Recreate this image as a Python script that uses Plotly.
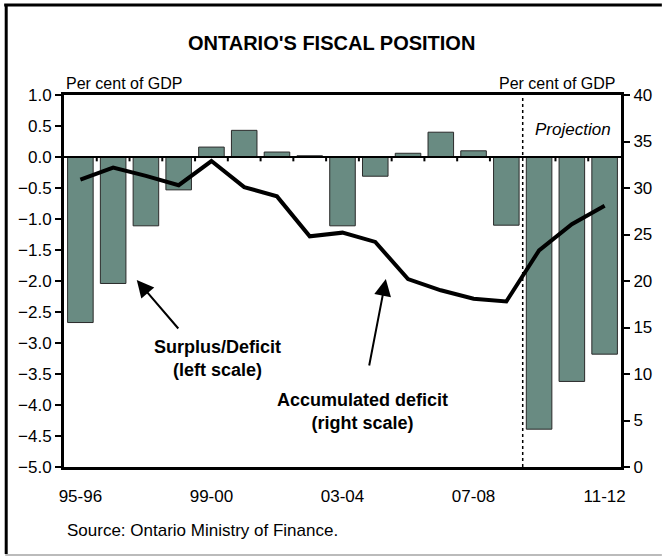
import plotly.graph_objects as go

years = ["95-96", "96-97", "97-98", "98-99", "99-00", "00-01", "01-02", "02-03",
         "03-04", "04-05", "05-06", "06-07", "07-08", "08-09", "09-10", "10-11", "11-12"]
surplus_deficit = [-2.67, -2.04, -1.11, -0.53, 0.16, 0.43, 0.08, 0.02,
                   -1.11, -0.31, 0.06, 0.40, 0.10, -1.10, -4.39, -3.62, -3.18]
accumulated_deficit = [30.9, 32.2, 31.3, 30.3, 32.9, 30.1, 29.1, 24.8,
                       25.2, 24.2, 20.2, 19.0, 18.1, 17.8, 23.3, 26.1, 28.1]
shown_labels = ["95-96", "99-00", "03-04", "07-08", "11-12"]
projection_start = "09-10"

font = "Liberation Sans, Arial, sans-serif"
bar_color = "#698b82"

# plot area in pixels (left, right, top, bottom)
L, R, T, B = 64, 623, 95, 467


def px_x(v):
    return (v - L) / (R - L)


def px_y(v):
    return (B - v) / (B - T)


fig = go.Figure()

fig.add_trace(go.Bar(
    x=years, y=surplus_deficit,
    marker=dict(color=bar_color, line=dict(color="#2a2a2a", width=1)),
    yaxis="y", showlegend=False, hoverinfo="skip",
))

fig.add_trace(go.Scatter(
    x=years, y=accumulated_deficit, mode="lines",
    line=dict(color="black", width=4),
    yaxis="y2", showlegend=False, hoverinfo="skip",
))

proj_idx = years.index(projection_start)

shapes = []
# zero line drawn above the bars
shapes.append(dict(type="line", xref="x domain", yref="y", x0=0, x1=1, y0=0, y1=0,
                   line=dict(color="black", width=2), layer="above"))
# small ticks on the zero line between categories
for i in range(len(years) - 1):
    if i == proj_idx - 1:
        continue
    shapes.append(dict(type="line", xref="x", yref="y", x0=i + 0.5, x1=i + 0.5,
                       y0=0, y1=-0.07, line=dict(color="black", width=2)))

# projection divider
shapes.append(dict(type="line", xref="x", yref="paper", x0=proj_idx - 0.5, x1=proj_idx - 0.5,
                   y0=0, y1=1, line=dict(color="black", width=1.5, dash="dot")))

# outer frame
shapes.append(dict(type="line", xref="paper", yref="paper", x0=px_x(4), x1=px_x(664),
                   y0=px_y(5), y1=px_y(5), line=dict(color="black", width=3)))
shapes.append(dict(type="line", xref="paper", yref="paper", x0=px_x(6), x1=px_x(6),
                   y0=px_y(4), y1=px_y(554), line=dict(color="black", width=3)))
shapes.append(dict(type="line", xref="paper", yref="paper", x0=px_x(5), x1=px_x(664),
                   y0=px_y(555), y1=px_y(555), line=dict(color="#bbbbbb", width=2)))

bold = dict(family=font, size=18, color="black")


def label(text, x, y, size=17, xanchor="center", **kw):
    return dict(text=text, xref="paper", yref="paper", x=x, y=y, showarrow=False,
                xanchor=xanchor, yanchor=kw.pop("yanchor", "middle"),
                font=kw.pop("font", dict(family=font, size=size, color="black")), **kw)


def arrow(tip, tail):
    return dict(text="", xref="x domain", yref="y domain",
                x=px_x(tip[0]), y=px_y(tip[1]), ax=px_x(tail[0]), ay=px_y(tail[1]),
                axref="x domain", ayref="y domain", showarrow=True,
                arrowhead=2, arrowsize=1.7, arrowwidth=2, arrowcolor="black")


annotations = [
    label("<b>ONTARIO'S FISCAL POSITION</b>", px_x(332), px_y(43), size=20),
    label("Per cent of GDP", 0.0, 1.0, size=16, xanchor="left", yanchor="bottom", yshift=1),
    label("Per cent of GDP", px_x(620), 1.0, size=16, xanchor="right", yanchor="bottom", yshift=1),
    label("<i>Projection</i>", px_x(615), px_y(129), size=17, xanchor="right"),
    label("Source: Ontario Ministry of Finance.", px_x(65), px_y(530), size=17, xanchor="left"),
    label("<b>Surplus/Deficit</b><br><b>(left scale)</b>", px_x(218), px_y(358), font=bold),
    label("<b>Accumulated deficit</b><br><b>(right scale)</b>", px_x(364), px_y(411), font=bold),
    arrow((137, 280), (180, 330)),
    arrow((387, 279), (370, 367)),
]

fig.update_layout(
    width=664, height=556,
    margin=dict(l=L, r=664 - R, t=T, b=556 - B),
    paper_bgcolor="white", plot_bgcolor="white",
    font=dict(family=font, size=17, color="black"),
    bargap=0.22,
    hovermode=False,
    xaxis=dict(
        type="category", categoryorder="array", categoryarray=years,
        tickvals=shown_labels, ticktext=shown_labels,
        ticks="", ticklabelstandoff=12,
        showline=True, linecolor="black", linewidth=3, mirror=True,
        showgrid=False, range=[-0.5, len(years) - 0.5],
    ),
    yaxis=dict(
        range=[-5, 1], dtick=0.5, tickformat=".1f",
        ticks="outside", ticklen=6, tickwidth=2, tickcolor="black",
        showline=True, linecolor="black", linewidth=3,
        showgrid=False, zeroline=False,
    ),
    yaxis2=dict(
        range=[0, 40], dtick=5, overlaying="y", side="right",
        ticks="outside", ticklen=6, tickwidth=2, tickcolor="black",
        showline=True, linecolor="black", linewidth=3,
        showgrid=False, zeroline=False,
    ),
    shapes=shapes,
    annotations=annotations,
)

fig.write_html("out.html", config={"displayModeBar": False},
               post_script="document.body.style.margin='0';")
